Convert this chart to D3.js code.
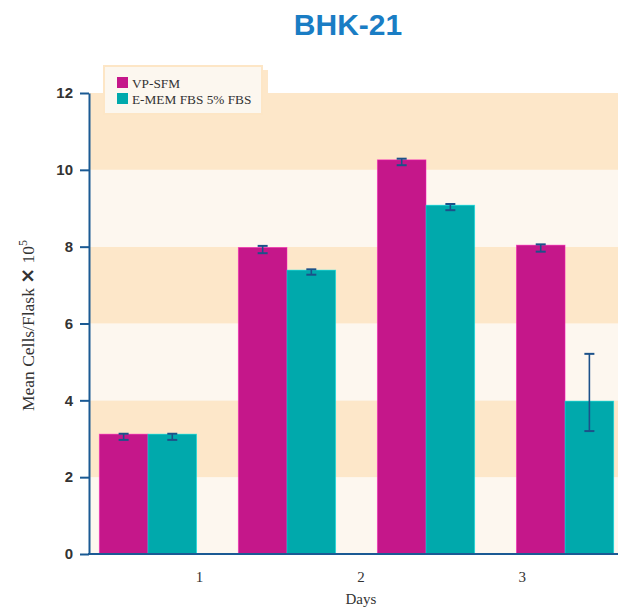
<!DOCTYPE html>
<html>
<head>
<meta charset="utf-8">
<script src="https://cdn.jsdelivr.net/npm/d3@7"></script>
<style>
  html, body { margin: 0; padding: 0; background: #ffffff; }
  svg { display: block; }
</style>
</head>
<body>
<div id="chart"></div>
<script>
// Cell counts per flask (x 10^5) for BHK-21 in two media
const groups = ["A", "B", "C", "D"];
const seriesNames = ["VP-SFM", "E-MEM FBS 5% FBS"];
const vpSfm = [3.12, 7.98, 10.26, 8.04];
const emem = [3.12, 7.39, 9.08, 3.98];
// error bar extents (low, high) for each bar
const vpSfmErrLow = [2.97, 7.83, 10.12, 7.87];
const vpSfmErrHigh = [3.13, 8.02, 10.29, 8.06];
const ememErrLow = [2.97, 7.27, 8.95, 3.20];
const ememErrHigh = [3.13, 7.41, 9.11, 5.21];
const dayTicks = ["1", "2", "3"];
const yTicks = [0, 2, 4, 6, 8, 10, 12];

const colors = { "VP-SFM": "#c5178a", "E-MEM FBS 5% FBS": "#00a9ac" };
const bandDark = "#fde7c9", bandLight = "#fdf7ef", axisColor = "#1b5a94", errColor = "#1c5189";

const width = 618, height = 611;
const margin = { left: 89, top: 93, bottom: 57 };
const plotRight = 624;

const svg = d3.select("#chart").append("svg")
  .attr("width", width).attr("height", height);

const y = d3.scaleLinear().domain([0, 12]).range([height - margin.bottom, margin.top]);
const x0 = d3.scaleBand().domain(groups).range([margin.left, plotRight])
  .paddingInner(0.3).paddingOuter(0.074);
const x1 = d3.scaleBand().domain(seriesNames).range([0, x0.bandwidth()]);
const xDays = d3.scalePoint().domain(dayTicks)
  .range([margin.left + 0.2065 * (plotRight - margin.left), margin.left + 0.81 * (plotRight - margin.left)]);

// alternating background bands every 2 units
const bands = d3.pairs(yTicks);
svg.append("g").selectAll("rect").data(bands).join("rect")
  .attr("x", margin.left)
  .attr("width", plotRight - margin.left)
  .attr("y", d => y(d[1]))
  .attr("height", d => y(d[0]) - y(d[1]))
  .attr("fill", (d, i) => i % 2 === 0 ? bandLight : bandDark);

// bars
const rows = groups.map((g, i) => ({
  group: g,
  bars: [
    { name: seriesNames[0], value: vpSfm[i], lo: vpSfmErrLow[i], hi: vpSfmErrHigh[i] },
    { name: seriesNames[1], value: emem[i], lo: ememErrLow[i], hi: ememErrHigh[i] }
  ]
}));

const gGroups = svg.append("g").selectAll("g").data(rows).join("g")
  .attr("transform", d => `translate(${x0(d.group)},0)`);

gGroups.selectAll("rect").data(d => d.bars).join("rect")
  .attr("x", d => x1(d.name))
  .attr("width", x1.bandwidth())
  .attr("y", d => y(d.value))
  .attr("height", d => y(0) - y(d.value))
  .attr("fill", d => colors[d.name])
  .attr("stroke", d => d3.color(colors[d.name]).brighter(0.9))
  .attr("stroke-opacity", 0.6)
  .attr("stroke-width", 0.8);

// error bars
const capW = 10;
const eb = gGroups.selectAll("g.err").data(d => d.bars).join("g").attr("class", "err")
  .attr("stroke", errColor).attr("stroke-width", 2).attr("fill", "none");
eb.append("line")
  .attr("x1", d => x1(d.name) + x1.bandwidth() / 2)
  .attr("x2", d => x1(d.name) + x1.bandwidth() / 2)
  .attr("y1", d => y(d.hi)).attr("y2", d => y(d.lo))
  .attr("stroke-width", 1.6);
eb.append("line")
  .attr("x1", d => x1(d.name) + x1.bandwidth() / 2 - capW / 2)
  .attr("x2", d => x1(d.name) + x1.bandwidth() / 2 + capW / 2)
  .attr("y1", d => y(d.hi)).attr("y2", d => y(d.hi));
eb.append("line")
  .attr("x1", d => x1(d.name) + x1.bandwidth() / 2 - capW / 2)
  .attr("x2", d => x1(d.name) + x1.bandwidth() / 2 + capW / 2)
  .attr("y1", d => y(d.lo)).attr("y2", d => y(d.lo));

// y axis
const yAxis = svg.append("g")
  .attr("transform", `translate(${margin.left},0)`)
  .call(d3.axisLeft(y).tickValues(yTicks).tickSize(9).tickSizeOuter(0).tickPadding(7));
yAxis.select(".domain").attr("stroke", axisColor).attr("stroke-width", 2);
yAxis.selectAll(".tick line").attr("stroke", axisColor).attr("stroke-width", 2);
yAxis.selectAll(".tick text")
  .attr("fill", "#333")
  .style("font-family", "'Liberation Sans Narrow', 'Arial Narrow', 'Liberation Sans', sans-serif")
  .style("font-weight", "bold")
  .style("font-size", "15px");

// x axis line
svg.append("line")
  .attr("x1", margin.left - 1).attr("x2", width)
  .attr("y1", y(0)).attr("y2", y(0))
  .attr("stroke", axisColor).attr("stroke-width", 2);

// day labels
svg.append("g").selectAll("text").data(dayTicks).join("text")
  .attr("x", d => xDays(d))
  .attr("y", y(0) + 28)
  .attr("text-anchor", "middle")
  .attr("fill", "#333")
  .style("font-family", "'Liberation Serif', 'Times New Roman', serif")
  .style("font-size", "15px")
  .text(d => d);

svg.append("text")
  .attr("x", xDays("2"))
  .attr("y", y(0) + 50)
  .attr("text-anchor", "middle")
  .attr("fill", "#333")
  .style("font-family", "'Liberation Serif', 'Times New Roman', serif")
  .style("font-size", "15px")
  .text("Days");

// y axis title
const yTitle = svg.append("text")
  .attr("transform", `translate(34,${y(6) + 2}) rotate(-90)`)
  .attr("text-anchor", "middle")
  .attr("fill", "#333")
  .style("font-family", "'Liberation Serif', 'Times New Roman', serif")
  .style("font-size", "17.5px");
yTitle.append("tspan").text("Mean Cells/Flask ");
yTitle.append("tspan")
  .style("font-family", "'DejaVu Sans', sans-serif")
  .style("font-weight", "bold")
  .style("font-size", "19px")
  .text("\u00D7");
yTitle.append("tspan").text(" 10");
yTitle.append("tspan").attr("dy", -7).style("font-size", "12px").text("5");

// chart title
svg.append("text")
  .attr("x", 348).attr("y", 35)
  .attr("text-anchor", "middle")
  .attr("fill", "#1a7dc4")
  .style("font-family", "'Liberation Sans', Arial, sans-serif")
  .style("font-weight", "bold")
  .style("font-size", "30px")
  .text("BHK-21");

// legend with offset backing panel
const legend = svg.append("g").attr("transform", "translate(104,66)");
legend.append("rect")
  .attr("x", 6).attr("y", 4).attr("width", 158).attr("height", 48)
  .attr("fill", bandDark);
legend.append("rect")
  .attr("x", 0).attr("y", 0).attr("width", 158).attr("height", 48)
  .attr("fill", "#fcf7ef").attr("stroke", "#fde6c6").attr("stroke-width", 2);
const li = legend.selectAll("g.item").data(seriesNames).join("g").attr("class", "item")
  .attr("transform", (d, i) => `translate(13,${11 + i * 16})`);
li.append("rect").attr("width", 11).attr("height", 11).attr("fill", d => colors[d]);
li.append("text")
  .attr("x", 15).attr("y", 10.5)
  .attr("fill", "#333")
  .style("font-family", "'Liberation Serif', 'Times New Roman', serif")
  .style("font-size", "13.3px")
  .text(d => d);
</script>
</body>
</html>
